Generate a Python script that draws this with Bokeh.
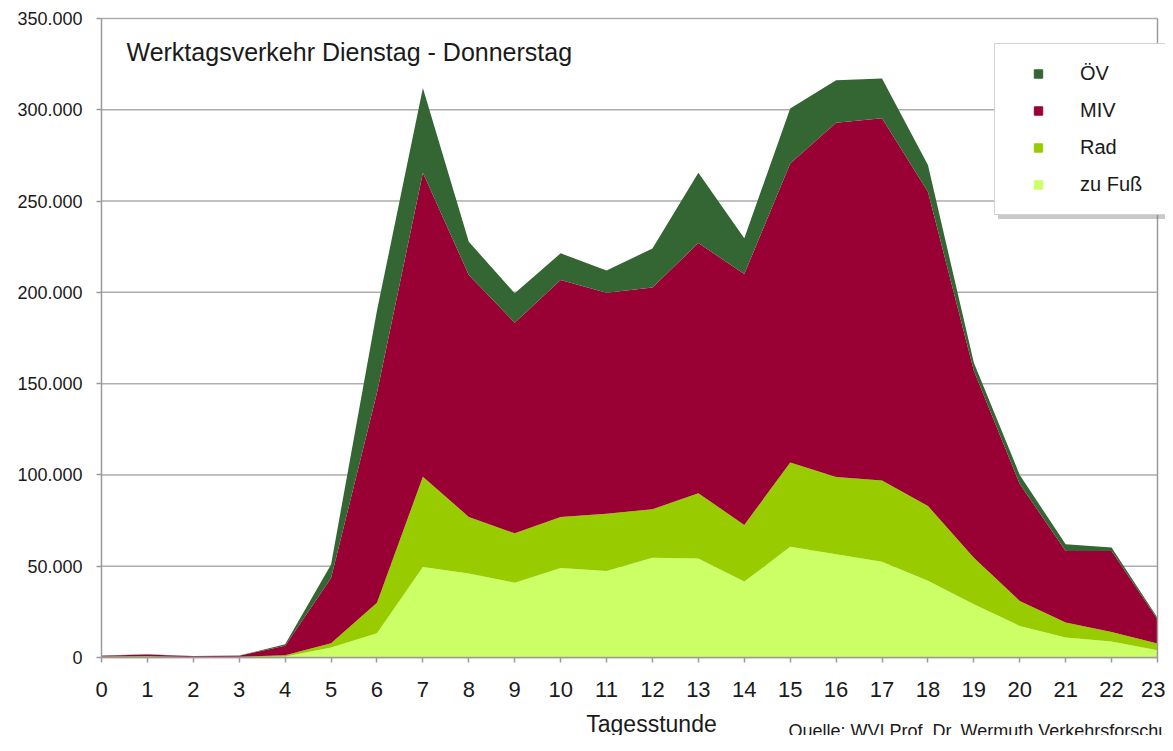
from bokeh.plotting import figure
from bokeh.models import ColumnDataSource, Range1d, FixedTicker, Legend, LegendItem, Label
from bokeh.embed import file_html
from bokeh.resources import INLINE

# ---------------- data ----------------
hours = list(range(24))
zu_fuss = [300, 400, 200, 200, 600, 5500, 13300, 49600, 46000, 41000, 49000, 47400,
           54700, 54200, 41600, 60600, 56600, 52400, 42000, 29200, 17300, 11000, 8800, 4000]
rad = [200, 300, 100, 200, 600, 2300, 16700, 49400, 31000, 27000, 28000, 31400,
       26500, 35800, 31000, 46200, 42300, 44600, 41000, 25500, 13700, 8200, 5200, 3700]
miv = [500, 1000, 400, 600, 5300, 35700, 115000, 166500, 132500, 115400, 129800, 121000,
       121500, 137000, 137400, 163800, 194000, 198300, 172100, 102300, 64000, 39200, 44400, 13300]
oev = [100, 100, 100, 100, 700, 7500, 45000, 46500, 18200, 16100, 14600, 12200,
       21300, 38500, 19600, 30100, 23300, 21900, 14600, 4500, 5000, 3600, 1800, 800]

series_keys = ["fuss", "rad", "miv", "oev"]
series_names = ["zu Fuß", "Rad", "MIV", "ÖV"]
series_colors = ["#CCFF66", "#99CC00", "#990033", "#336633"]

y_ticks = [0, 50000, 100000, 150000, 200000, 250000, 300000, 350000]
y_tick_labels = ["0", "50.000", "100.000", "150.000", "200.000", "250.000", "300.000", "350.000"]
x_tick_labels = [str(h) for h in hours]

title_text = "Werktagsverkehr Dienstag - Donnerstag"
x_title = "Tagesstunde"
source_text = "Quelle: WVI Prof. Dr. Wermuth Verkehrsforschung und Infrastrukturplanung GmbH"

FONT = "Liberation Sans"
GRID = "#ADADAD"
AXIS = "#9A9A9A"
TXT = "#1a1a1a"

# ---------------- layout geometry (pixels) ----------------
W, H = 1165, 735
LEFT = 101                   # pixel column of hour 0
TOP = 18                     # pixel row of the top tick value
ZERO_Y = 657                 # pixel row of value 0
END_X = 1157                 # pixel column of the last hour
px_per_val = (ZERO_Y - TOP) / y_ticks[-1]
px_per_hour = (END_X - LEFT) / hours[-1]
TXT_SHIFT = 8                # label baseline correction

src = ColumnDataSource(dict(hour=hours, fuss=zu_fuss, rad=rad, miv=miv, oev=oev))

p = figure(width=W, height=H,
           x_range=Range1d(-LEFT / px_per_hour, (W - LEFT) / px_per_hour),
           y_range=Range1d(-(H - ZERO_Y) / px_per_val, ZERO_Y / px_per_val),
           output_backend="svg", toolbar_location=None,
           min_border_left=0, min_border_right=0, min_border_top=0, min_border_bottom=0)

# gridlines (under the areas)
p.segment(x0=hours[0], x1=hours[-1], y0=y_ticks, y1=y_ticks,
          line_color=GRID, line_width=1.5, level="underlay")

p.varea_stack(stackers=series_keys, x="hour", color=series_colors, source=src)

# axis lines / right border
p.segment(x0=[hours[0], hours[-1], hours[0]], x1=[hours[0], hours[-1], hours[-1]],
          y0=[y_ticks[0], y_ticks[0], y_ticks[0]], y1=[y_ticks[-1], y_ticks[-1], y_ticks[0]],
          line_color=AXIS, line_width=1.5, level="guide")

# axes drawn inside the frame at value 0
p.xaxis.fixed_location = 0
p.yaxis.fixed_location = 0
p.xaxis.ticker = FixedTicker(ticks=hours)
p.xaxis.major_label_overrides = {h: lab for h, lab in zip(hours, x_tick_labels)}
p.yaxis.ticker = FixedTicker(ticks=y_ticks)
p.yaxis.major_label_overrides = {t: lab for t, lab in zip(y_ticks, y_tick_labels)}

for ax in (p.xaxis, p.yaxis):
    ax.axis_line_color = None
    ax.major_tick_line_color = AXIS
    ax.major_tick_line_width = 1.5
    ax.major_tick_in = 0
    ax.major_tick_out = 5
    ax.minor_tick_line_color = None
    ax.major_label_text_font = FONT
    ax.major_label_text_color = TXT

p.xaxis.major_label_text_font_size = "22px"
p.xaxis.major_label_standoff = 19
p.yaxis.major_label_text_font_size = "18px"
p.yaxis.major_label_standoff = 14

p.xgrid.grid_line_color = None
p.ygrid.grid_line_color = None
p.outline_line_color = None
p.background_fill_color = "white"
p.border_fill_color = "white"

# texts (screen units from the frame's bottom-left corner)
def add_text(txt, x, baseline, size, align="left"):
    p.add_layout(Label(x=x, y=H - baseline + TXT_SHIFT, x_units="screen", y_units="screen",
                       text=txt, text_font=FONT, text_font_size=size, text_color=TXT,
                       text_baseline="alphabetic", text_align=align))

add_text(title_text, 126, 59, "25px")
add_text(x_title, 651, 731, "23px", "center")
add_text(source_text, 788, 738, "18px")

# legend (square markers, reversed order)
dummies = [p.scatter(x=hours[:1], y=zu_fuss[:1], marker="square", size=15,
                     fill_color=c, line_color=c, visible=False)
           for c in series_colors]
items = [LegendItem(label=n, renderers=[r]) for n, r in zip(series_names, dummies)][::-1]
shadow_items = [LegendItem(label=" ", renderers=[r]) for r in dummies][::-1]

common = dict(glyph_width=50, glyph_height=21, label_height=21, label_width=106,
              label_standoff=17, spacing=14, padding=18, margin=0,
              inactive_fill_alpha=0.0,
              label_text_font=FONT, label_text_font_size="20px")

lx, lb = 994, H - 215
shadow = Legend(items=shadow_items, location=(lx + 4, lb - 4), background_fill_color="#888888",
                background_fill_alpha=0.45, border_line_color=None, **common)
legend = Legend(items=items, location=(lx, lb), background_fill_color="white",
                background_fill_alpha=1.0, border_line_color="#A8A8A8", border_line_width=1.5,
                label_text_color=TXT, **common)
p.add_layout(shadow, "center")
p.add_layout(legend, "center")

open("out.html", "w").write(file_html(p, INLINE))
